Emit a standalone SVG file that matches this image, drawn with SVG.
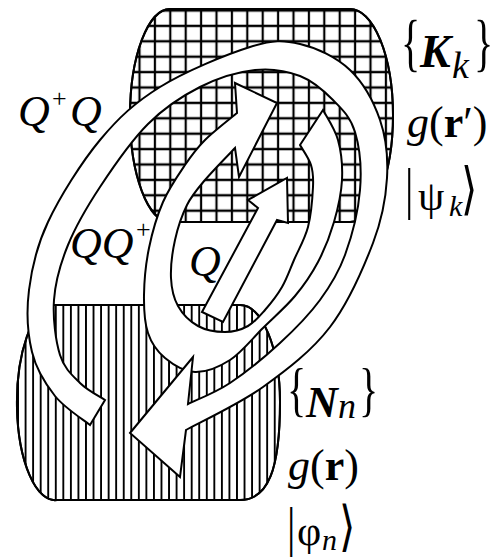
<svg xmlns="http://www.w3.org/2000/svg" width="501" height="558" viewBox="0 0 501 558">
<defs>
<pattern id="grid" patternUnits="userSpaceOnUse" x="131.8" y="2.8" width="15.4" height="15.4">
<path d="M7.7,0 V15.4 M0,7.7 H15.4" stroke="#000" stroke-width="2.2" fill="none"/>
</pattern>
<pattern id="vlines" patternUnits="userSpaceOnUse" x="82.2" y="0" width="7.55" height="20">
<path d="M3.775,0 V20" stroke="#000" stroke-width="1.9" fill="none"/>
</pattern>
<style>
.shape{stroke:#000;stroke-width:2;stroke-linejoin:round}
.band{fill:#fff;stroke:#000;stroke-width:2;stroke-linejoin:miter}
.t{font-family:"Liberation Serif","DejaVu Serif",serif;fill:#000}
.i{font-style:italic}
.b{font-weight:bold}
</style>
</defs>
<rect width="501" height="558" fill="#fff"/>
<g id="top-region">
<path class="shape" fill="#fff" d="M170,9 L350,9 A43,106.5 0 0,1 350,222 L170,222 A40,106.5 0 0,1 170,9 Z"/>
<path class="shape" fill="url(#grid)" d="M170,9 L350,9 A43,106.5 0 0,1 350,222 L170,222 A40,106.5 0 0,1 170,9 Z"/>
</g>
<g id="bottom-region">
<path class="shape" fill="#fff" d="M53,305 L240,305 C262,305 280,348.6 280,402 C280,469.9 268,500 240,500 L57,500 A38,97.5 0 0,1 53,305 Z"/>
<path class="shape" fill="url(#vlines)" d="M53,305 L240,305 C262,305 280,348.6 280,402 C280,469.9 268,500 240,500 L57,500 A38,97.5 0 0,1 53,305 Z"/>
</g>
<g id="connectors">
<path id="arrow-QQplus" class="band" d="M323,110 C325.5,115 334.8,128.3 338,140 C341.2,151.7 342.7,166.3 342,180 C341.3,193.7 338,208.3 334,222 C330,235.7 324.5,249.7 318,262 C311.5,274.3 304.2,285 295,296 C285.8,307 273.8,317.3 263,328 C252.2,338.7 241.3,352.7 230,360 C218.7,367.3 205.8,372.3 195,372 C184.2,371.7 172.8,364.5 165,358 C157.2,351.5 151.5,343.5 148,333 C144.5,322.5 143.8,309.2 144,295 C144.2,280.8 145.8,263.5 149,248 C152.2,232.5 157,215.8 163,202 C169,188.2 178,175.3 185,165 C192,154.7 196.3,148.7 205,140 C213.7,131.3 231.7,117.5 237,113 L235,83 L277,103 L239,177 L235,148 C230,153.3 213,170.5 205,180 C197,189.5 192,195 187,205 C182,215 177.7,227.8 175,240 C172.3,252.2 170.5,267 171,278 C171.5,289 173.5,298 178,306 C182.5,314 190.2,321.7 198,326 C205.8,330.3 216.7,332 225,332 C233.3,332 241.3,329.7 248,326 C254.7,322.3 259.3,316.5 265,310 C270.7,303.5 277.2,295.3 282,287 C286.8,278.7 289.7,270 294,260 C298.3,250 304.8,239.2 308,227 C311.2,214.8 312.5,197.3 313,187 C313.5,176.7 313.2,172 311,165 C308.8,158 301.8,148.3 300,145 Z"/>
<path id="arrow-Q" class="band" d="M202,312 L258,208 L248,200 L287,178 L288,223 L277,220 L223,322 Z"/>
<path id="arrow-QplusQ" class="band" d="M90,425 C84.2,420.2 64.7,408.2 55,396 C45.3,383.8 36.3,369.7 32,352 C27.7,334.3 26.3,311.7 29,290 C31.7,268.3 36.2,247 48,222 C59.8,197 81.3,162.5 100,140 C118.7,117.5 135,102.5 160,87 C185,71.5 226.7,54.2 250,47 C273.3,39.8 283.3,40.2 300,44 C316.7,47.8 336.7,57.3 350,70 C363.3,82.7 373.8,102 380,120 C386.2,138 388.2,157.5 387,178 C385.8,198.5 382.5,218.2 373,243 C363.5,267.8 348.3,303 330,327 C311.7,351 287,369.8 263,387 C239,404.2 198.8,422.8 186,430 L180,477 L130,433 L193,357 L188,404 C195,400.5 214.7,393.2 230,383 C245.3,372.8 265,356.8 280,343 C295,329.2 309.2,314.7 320,300 C330.8,285.3 338.3,273.3 345,255 C351.7,236.7 358.3,210.5 360,190 C361.7,169.5 359.5,147 355,132 C350.5,117 342.2,109.3 333,100 C323.8,90.7 313,81 300,76 C287,71 271.7,68.2 255,70 C238.3,71.8 217.8,78 200,87 C182.2,96 164.7,107.3 148,124 C131.3,140.7 113.3,166.8 100,187 C86.7,207.2 75.7,226.2 68,245 C60.3,263.8 55.3,281.7 54,300 C52.7,318.3 55.7,341.2 60,355 C64.3,368.8 72.5,375.5 80,383 C87.5,390.5 100.8,397.2 105,400 Z"/>
</g>
<g id="label-QplusQ" class="t i" font-size="44">
<text x="18" y="126">Q</text>
<text x="52" y="107" font-size="26" font-style="normal">+</text>
<text x="70" y="126">Q</text>
</g>
<g id="label-QQplus" class="t i" font-size="44">
<text x="70" y="258">QQ</text>
<text x="136" y="238" font-size="26" font-style="normal">+</text>
</g>
<g id="label-Q" class="t i" font-size="44">
<text x="189" y="276">Q</text>
</g>
<g id="label-Kk" class="t" font-size="40">
<text transform="translate(401,63.5) scale(1,1.6)">{</text>
<text x="420" y="67" class="b i" font-size="46">K</text>
<text x="452" y="78" class="i" font-size="38">k</text>
<text transform="translate(474,63.5) scale(1,1.6)">}</text>
</g>
<g id="label-gr2" class="t" font-size="44">
<text x="407" y="137"><tspan class="i">g</tspan>(<tspan class="b">r</tspan>′)</text>
</g>
<g id="label-psi" class="t" font-size="42">
<text transform="translate(405,208) scale(1,1.35)">|</text>
<text x="418" y="210">ψ</text>
<text x="449" y="216" class="i" font-size="30">k</text>
<text transform="translate(461,208) scale(1,1.35)">⟩</text>
</g>
<g id="label-Nn" class="t" font-size="40">
<text transform="translate(287,409) scale(1,1.5)">{</text>
<text x="306" y="417" class="b i" font-size="44">N</text>
<text x="338" y="418" class="i" font-size="36">n</text>
<text transform="translate(359,409) scale(1,1.5)">}</text>
</g>
<g id="label-gr" class="t" font-size="44">
<text x="288" y="480"><tspan class="i">g</tspan>(<tspan class="b">r</tspan>)</text>
</g>
<g id="label-phi" class="t" font-size="42">
<text transform="translate(287,545) scale(1,1.3)">|</text>
<text x="297" y="545">φ</text>
<text x="322" y="550" class="i" font-size="30">n</text>
<text transform="translate(339,545) scale(1,1.3)">⟩</text>
</g>
</svg>
